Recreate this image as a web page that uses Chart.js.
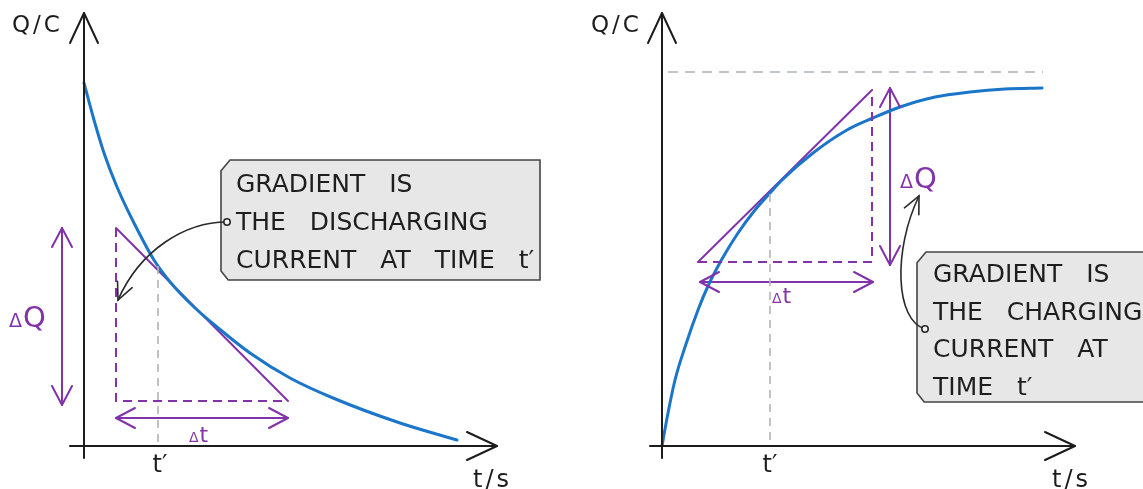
<!DOCTYPE html>
<html><head><meta charset="utf-8">
<script src="https://cdn.jsdelivr.net/npm/chart.js@4.4.1/dist/chart.umd.min.js"></script>
<style>
html,body{margin:0;padding:0;background:#fff;}
#wrap{position:relative;width:1143px;height:489px;overflow:hidden;background:#fff;}
canvas{position:absolute;top:0;}
</style></head><body>
<div id="wrap">
<canvas id="left" width="571" height="489" style="left:0;width:571px;height:489px"></canvas>
<canvas id="right" width="572" height="489" style="left:571px;width:572px;height:489px"></canvas>
</div>
<script>
// ================= DATA (t and Q in arbitrary units) =================
// ---- Left: discharging ----
const dischargeT = [0, 0.25, 0.5, 0.825, 1.25, 1.75, 2.175, 2.75, 3.325, 4.15, 5.15, 6.225, 7.9, 9.325];
const dischargeQ = [9.075, 8.15, 7.325, 6.475, 5.575, 4.65, 4.075, 3.475, 2.975, 2.325, 1.7, 1.2, 0.575, 0.15];
const leftTangentT = [0.8, 5.1];
const leftTangentQ = [5.45, 1.125];
const leftLegsT = [0.8, 0.8, 5.1];
const leftLegsQ = [5.45, 1.125, 1.125];
const leftDeltaQ_T = [-0.55, -0.55];
const leftDeltaQ_Q = [5.45, 1.025];
const leftDeltaT_T = [0.8, 5.1];
const leftDeltaT_Q = [0.7, 0.7];
const leftPrimeT = [1.85, 1.85];
const leftPrimeQ = [4.5, 0];
const leftAxisY_T = [0, 0];
const leftAxisY_Q = [-0.3, 10.825];
const leftAxisX_T = [-0.35, 10.325];
const leftAxisX_Q = [0, 0];

// ---- Right: charging ----
const chargeT = [0, 0.15, 0.325, 0.575, 0.9, 1.15, 1.5, 1.9, 2.325, 2.7, 3.0, 3.775, 4.625, 5.275, 5.95, 6.825, 7.7, 8.575, 9.5];
const chargeQ = [0, 0.825, 1.65, 2.475, 3.4, 4.0, 4.675, 5.325, 5.9, 6.325, 6.65, 7.325, 7.9, 8.2, 8.475, 8.725, 8.85, 8.925, 8.95];
const rightAsymT = [0.15, 9.525];
const rightAsymQ = [9.35, 9.35];
const rightTangentT = [0.9, 5.25];
const rightTangentQ = [4.6, 8.9];
const rightLegsT = [0.9, 5.25, 5.25];
const rightLegsQ = [4.6, 4.6, 8.9];
const rightDeltaQ_T = [5.7, 5.7];
const rightDeltaQ_Q = [8.95, 4.525];
const rightDeltaT_T = [0.95, 5.275];
const rightDeltaT_Q = [4.1, 4.1];
const rightPrimeT = [2.7, 2.7];
const rightPrimeQ = [6.3, 0];
const rightAxisY_T = [0, 0];
const rightAxisY_Q = [-0.3, 10.825];
const rightAxisX_T = [-0.3, 10.325];
const rightAxisX_Q = [0, 0];

// ---- Texts ----
const leftBoxLines = ['GRADIENT IS', 'THE DISCHARGING', 'CURRENT AT TIME t\u2032'];
const rightBoxLines = ['GRADIENT IS', 'THE CHARGING', 'CURRENT AT', 'TIME t\u2032'];
const yAxisTitle = 'Q/C';
const xAxisTitle = 't/s';
const tickPrime = 't\u2032';

// ================= STYLE / LAYOUT =================
const BLUE = '#1b76c9', PURPLE = '#8233aa', INK = '#1c1c1c', GREY = '#b4b4b4', ASYM = '#a9b2ba';
const FONT = '"DejaVu Sans", "Open Sans", sans-serif';

const pts = (ts, qs) => ts.map((t, i) => ({x: t, y: qs[i]}));

function lineDs(data, color, width, extra) {
  return Object.assign({data, borderColor: color, borderWidth: width, pointRadius: 0, showLine: true,
    fill: false, tension: 0, borderCapStyle: 'round', borderJoinStyle: 'round'}, extra || {});
}

const annotations = {
  left: {
    box: {t0: 3.425, t1: 11.4, q0: 7.15, q1: 4.15, chamfer: 9, lines: leftBoxLines, padX: 15, firstBase: 32, lineGap: 38},
    connector: {p0: [3.575, 5.6], c1: [2.525, 5.6], c2: [1.4, 4.9], p1: [0.85, 3.65]},
    labels: [
      {t: -1.8, q: 10.35, parts: [{s: yAxisTitle, size: 23}], color: INK, spacing: 3},
      {t: 9.725, q: -1.025, parts: [{s: xAxisTitle, size: 24}], color: INK, spacing: 3},
      {t: 1.9, q: -0.65, parts: [{s: tickPrime, size: 24}], color: INK, center: true},
      {t: -1.875, q: 2.975, parts: [{s: '\u0394', size: 19}, {s: 'Q', size: 29}], color: PURPLE},
      {t: 2.625, q: 0.1, parts: [{s: '\u0394', size: 14}, {s: 't', size: 22}], color: PURPLE}
    ]
  },
  right: {
    box: {t0: 6.375, t1: 12.6, q0: 4.85, q1: 1.1, chamfer: 9, lines: rightBoxLines, padX: 16, firstBase: 30, lineGap: 37.7},
    connector: {p0: [6.575, 2.925], c1: [5.825, 3.15], c2: [5.775, 4.9], p1: [6.425, 6.25]},
    labels: [
      {t: -1.775, q: 10.35, parts: [{s: yAxisTitle, size: 23}], color: INK, spacing: 3},
      {t: 9.75, q: -1.025, parts: [{s: xAxisTitle, size: 24}], color: INK, spacing: 3},
      {t: 2.7, q: -0.65, parts: [{s: tickPrime, size: 24}], color: INK, center: true},
      {t: 5.95, q: 6.45, parts: [{s: '\u0394', size: 19}, {s: 'Q', size: 29}], color: PURPLE},
      {t: 2.75, q: 3.575, parts: [{s: '\u0394', size: 14}, {s: 't', size: 22}], color: PURPLE}
    ]
  }
};

function chevron(ctx, fx, fy, tx, ty, len, hw) {
  const dx = tx - fx, dy = ty - fy, d = Math.hypot(dx, dy) || 1;
  const ux = dx / d, uy = dy / d;
  const bx = tx - ux * len, by = ty - uy * len;
  ctx.beginPath();
  ctx.moveTo(bx - uy * hw, by + ux * hw);
  ctx.lineTo(tx, ty);
  ctx.lineTo(bx + uy * hw, by - ux * hw);
  ctx.stroke();
}

const diagramPlugin = {
  id: 'diagram',
  afterDatasetsDraw(chart) {
    const ctx = chart.ctx, xs = chart.scales.x, ys = chart.scales.y;
    const X = v => xs.getPixelForValue(v), Y = v => ys.getPixelForValue(v);
    chart.data.datasets.forEach((ds, i) => {
      if (!ds.arrows) return;
      const p = chart.getDatasetMeta(i).data;
      ctx.save();
      ctx.strokeStyle = ds.borderColor; ctx.lineWidth = ds.borderWidth; ctx.lineCap = 'round'; ctx.lineJoin = 'round';
      ctx.setLineDash([]);
      const a = ds.arrows;
      if (a.end) chevron(ctx, p[p.length - 2].x, p[p.length - 2].y, p[p.length - 1].x, p[p.length - 1].y, a.len, a.hw);
      if (a.start) chevron(ctx, p[1].x, p[1].y, p[0].x, p[0].y, a.len, a.hw);
      ctx.restore();
    });
    const ann = annotations[chart.canvas.id];
    if (!ann) return;
    ctx.save();
    const b = ann.box;
    const L = X(b.t0), R = X(b.t1), T = Y(b.q0), B = Y(b.q1), c = b.chamfer;
    ctx.beginPath();
    ctx.moveTo(L + c, T); ctx.lineTo(R, T); ctx.lineTo(R, B); ctx.lineTo(L + c * 0.8, B);
    ctx.lineTo(L, B - c); ctx.lineTo(L, T + c * 1.2); ctx.closePath();
    ctx.fillStyle = '#e7e7e7'; ctx.fill();
    ctx.strokeStyle = '#444'; ctx.lineWidth = 1.6; ctx.stroke();
    ctx.fillStyle = '#1e1e1e';
    ctx.font = '400 25px ' + FONT;
    ctx.textBaseline = 'alphabetic'; ctx.textAlign = 'left';
    b.lines.forEach((line, i) => {
      let x = L + b.padX; const y = T + b.firstBase + i * b.lineGap;
      line.split(' ').forEach(w => { ctx.fillText(w, x, y); x += ctx.measureText(w).width + 24; });
    });
    const cn = ann.connector;
    const P0 = [X(cn.p0[0]), Y(cn.p0[1])], C1 = [X(cn.c1[0]), Y(cn.c1[1])], C2 = [X(cn.c2[0]), Y(cn.c2[1])], P1 = [X(cn.p1[0]), Y(cn.p1[1])];
    ctx.strokeStyle = '#2a2a2a'; ctx.lineWidth = 1.6; ctx.lineCap = 'round';
    ctx.beginPath(); ctx.moveTo(P0[0], P0[1]); ctx.bezierCurveTo(C1[0], C1[1], C2[0], C2[1], P1[0], P1[1]); ctx.stroke();
    chevron(ctx, C2[0], C2[1], P1[0], P1[1], 17, 8);
    ctx.beginPath(); ctx.arc(P0[0], P0[1], 3.2, 0, Math.PI * 2); ctx.fillStyle = '#f4f4f4'; ctx.fill(); ctx.stroke();
    ann.labels.forEach(lb => {
      ctx.fillStyle = lb.color;
      ctx.letterSpacing = (lb.spacing || 0) + 'px';
      let total = 0;
      lb.parts.forEach(pt => { ctx.font = '400 ' + pt.size + 'px ' + FONT; total += ctx.measureText(pt.s).width; });
      let x = X(lb.t) - (lb.center ? total / 2 : 0); const y = Y(lb.q);
      lb.parts.forEach(pt => { ctx.font = '400 ' + pt.size + 'px ' + FONT; ctx.fillText(pt.s, x, y); x += ctx.measureText(pt.s).width + 1; });
      ctx.letterSpacing = '0px';
    });
    ctx.restore();
  }
};

function makeChart(id, xr, datasets) {
  return new Chart(document.getElementById(id), {
    type: 'scatter',
    data: {datasets},
    options: {
      responsive: false, animation: false, devicePixelRatio: 1, events: [],
      layout: {padding: 0},
      plugins: {legend: {display: false}, tooltip: {enabled: false}, title: {display: false}},
      scales: {
        x: {type: 'linear', display: false, min: xr[0], max: xr[1]},
        y: {type: 'linear', display: false, min: -1.075, max: 11.15}
      }
    },
    plugins: [diagramPlugin]
  });
}

const axisArrow = {end: true, len: 30, hw: 14};
const dimArrow = {start: true, end: true, len: 19, hw: 10};

makeChart('left', [-2.1, 12.175], [
  lineDs(pts(leftPrimeT, leftPrimeQ), GREY, 1.6, {borderDash: [8, 6], borderCapStyle: 'butt'}),
  lineDs(pts(leftAxisX_T, leftAxisX_Q), INK, 2, {arrows: axisArrow}),
  lineDs(pts(leftAxisY_T, leftAxisY_Q), INK, 2, {arrows: axisArrow}),
  lineDs(pts(leftLegsT, leftLegsQ), PURPLE, 2, {borderDash: [9, 6], borderCapStyle: 'butt', borderJoinStyle: 'miter'}),
  lineDs(pts(dischargeT, dischargeQ), BLUE, 3, {cubicInterpolationMode: 'monotone'}),
  lineDs(pts(leftTangentT, leftTangentQ), PURPLE, 2),
  lineDs(pts(leftDeltaQ_T, leftDeltaQ_Q), PURPLE, 2, {arrows: dimArrow}),
  lineDs(pts(leftDeltaT_T, leftDeltaT_Q), PURPLE, 2, {arrows: dimArrow})
]);

makeChart('right', [-2.275, 12.025], [
  lineDs(pts(rightAsymT, rightAsymQ), ASYM, 1.6, {borderDash: [10, 7], borderCapStyle: 'butt'}),
  lineDs(pts(rightPrimeT, rightPrimeQ), GREY, 1.6, {borderDash: [8, 6], borderCapStyle: 'butt'}),
  lineDs(pts(rightAxisX_T, rightAxisX_Q), INK, 2, {arrows: axisArrow}),
  lineDs(pts(rightAxisY_T, rightAxisY_Q), INK, 2, {arrows: axisArrow}),
  lineDs(pts(rightLegsT, rightLegsQ), PURPLE, 2, {borderDash: [9, 6], borderCapStyle: 'butt', borderJoinStyle: 'miter'}),
  lineDs(pts(chargeT, chargeQ), BLUE, 3, {cubicInterpolationMode: 'monotone'}),
  lineDs(pts(rightTangentT, rightTangentQ), PURPLE, 2),
  lineDs(pts(rightDeltaQ_T, rightDeltaQ_Q), PURPLE, 2, {arrows: dimArrow}),
  lineDs(pts(rightDeltaT_T, rightDeltaT_Q), PURPLE, 2, {arrows: dimArrow})
]);
</script>
</body></html>
